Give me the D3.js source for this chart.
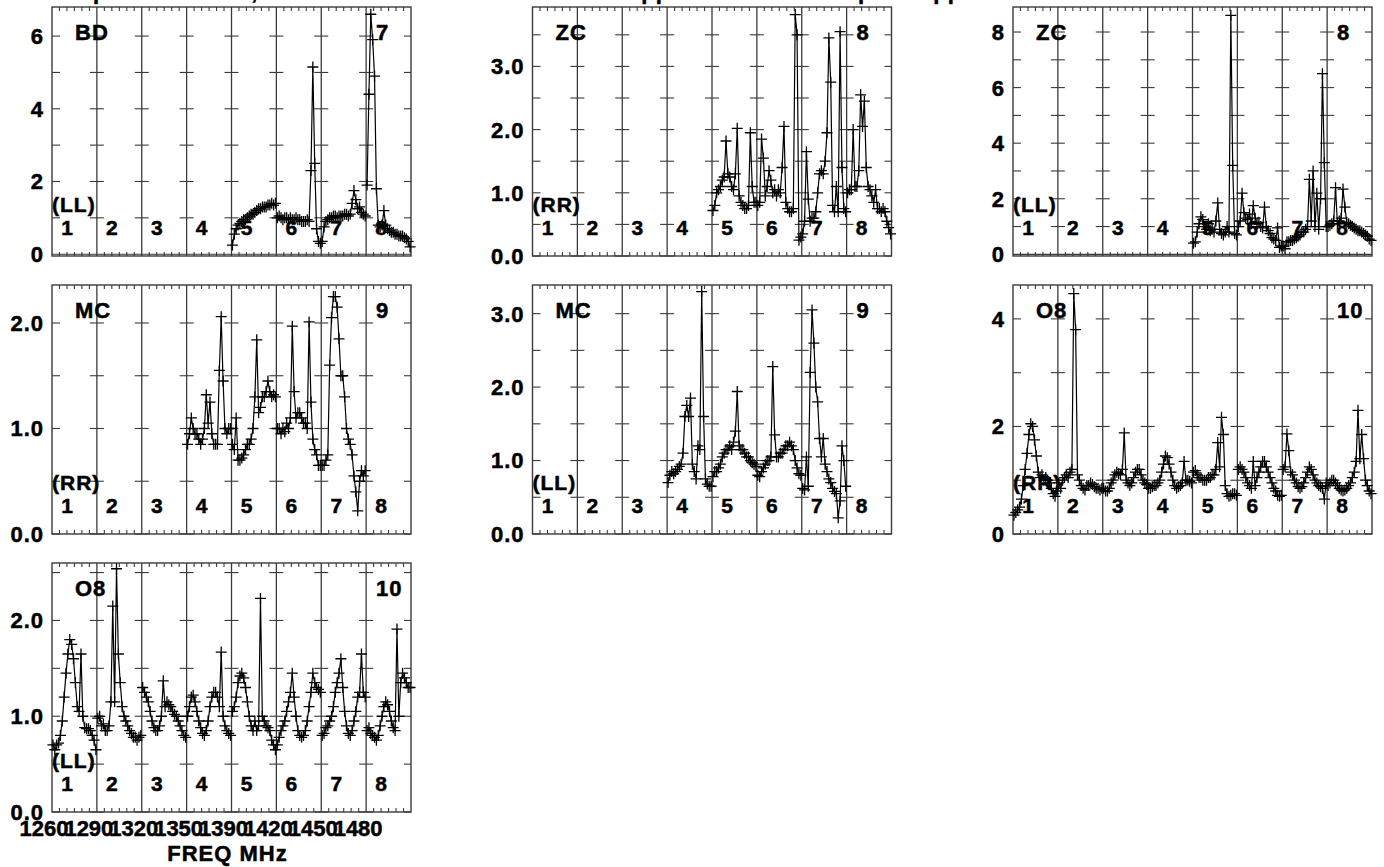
<!DOCTYPE html>
<html>
<head>
<meta charset="utf-8">
<script src="https://cdn.jsdelivr.net/npm/d3@7/dist/d3.min.js"></script>
<style>
  body { margin: 0; background: #fff; }
  text {
    font-family: "Liberation Sans", Arial, sans-serif;
    font-weight: bold;
    font-size: 22px;
    letter-spacing: 1px;
    fill: #000;
    stroke: #000;
    stroke-width: 0.5px;
  }
  text.small { font-size: 21px; }
</style>
</head>
<body>
<div id="chart"></div>
<script>
const svgWidth = 1384;
const svgHeight = 867;

// panel geometry
const panelW = 359;
const panelH = 249;
const colX = [52, 532.5, 1013];
const rowY = [7, 285, 563];

const nChan = 24;   // channels per IF

const ifLabels = ["1", "2", "3", "4", "5", "6", "7", "8"];
const freqLabels = ["1260", "1290", "1320", "1350", "1390", "1420", "1450", "1480"];

const sources = ["BD", "ZC", "ZC", "MC", "MC", "O8", "O8"];
const antennas = ["7", "8", "8", "9", "9", "10", "10"];
const pols = ["(LL)", "(RR)", "(LL)", "(RR)", "(LL)", "(RR)", "(LL)"];
const yMin = [-0.05, 0, -0.06, 0, 0, 0, 0];
const yMax = [6.8, 3.94, 8.9, 2.36, 3.39, 4.63, 2.6];
const yMinor = [1, 0.5, 1, 0.5, 0.5, 1, 0.5];
const yMajor = [2, 1, 2, 1, 1, 2, 1];
const yFormat = ["d", ".1f", "d", ".1f", ".1f", "d", ".1f"];

// title words, only their descenders reach into the page
const titleWords = ["Bandpass", "all IFs,", "applied", "pol", "applied"];
const titleX = [34, 182, 628, 858, 920];

// amplitude per IF (null = flagged IF)
const bdLL = [null, null, null, null,
  [0.25,0.55,0.7,0.8,0.85,0.9,0.95,0.95,1.0,1.05,1.1,1.1,1.15,1.2,1.25,1.25,1.3,1.3,1.3,1.35,1.35,1.4,1.35,1.4],
  [1.0,1.05,1.0,0.95,1.0,1.0,0.95,1.0,0.95,0.95,1.0,0.95,0.95,0.9,0.9,0.9,0.95,0.9,2.3,5.15,2.5,0.7,0.35,0.3],
  [0.35,0.75,0.9,0.95,1.0,1.0,1.05,1.05,1.0,1.05,1.05,1.05,1.1,1.1,1.05,1.1,1.4,1.75,1.5,1.25,1.3,1.15,1.1,1.05],
  [1.9,4.4,6.6,5.9,4.9,1.8,0.8,0.75,0.8,1.2,0.8,0.7,0.65,0.6,0.6,0.55,0.55,0.5,0.5,0.5,0.45,0.42,0.35,0.2]
];
const zcRR = [null, null, null, null,
  [0.72,0.8,1.0,1.05,1.1,1.2,1.25,1.82,1.3,1.25,1.1,1.05,1.3,2.02,0.95,0.85,0.8,0.75,0.75,0.8,1.95,1.1,0.85,0.85],
  [0.8,0.85,1.85,1.55,0.95,1.1,1.35,1.2,1.0,1.05,0.95,1.05,1.0,1.4,2.05,0.85,0.75,0.7,0.7,0.75,3.82,3.5,0.25,0.3],
  [0.35,0.55,1.65,0.9,0.55,0.6,0.6,0.7,1.0,1.3,1.35,1.3,1.5,1.95,3.45,2.75,0.8,0.7,1.1,0.7,3.55,1.4,0.75,0.7],
  [1.0,1.05,1.05,2.0,1.1,1.1,1.35,2.55,2.05,2.45,1.4,1.1,1.05,0.95,0.85,1.05,0.75,0.75,0.7,0.75,0.7,0.55,0.45,0.35]
];
const zcLL = [null, null, null, null,
  [0.4,0.45,0.8,1.1,1.35,1.25,1.0,0.9,1.1,0.85,0.9,0.8,1.2,1.85,0.9,0.75,0.7,0.8,1.0,0.8,8.6,3.2,0.75,0.7],
  [1.0,1.2,2.2,1.5,1.3,1.25,1.45,1.1,1.75,1.3,1.1,1.15,1.0,0.95,1.7,1.0,0.85,0.75,0.6,0.55,0.5,0.95,0.25,0.3],
  [0.3,0.2,0.45,0.45,0.5,0.5,0.55,0.6,0.65,0.7,0.8,0.8,0.9,1.0,2.7,1.2,3.0,1.0,2.2,0.9,2.0,6.5,3.3,1.0],
  [1.0,1.05,1.1,1.2,2.4,1.1,1.2,1.3,2.35,1.7,1.15,1.1,1.05,1.0,0.95,0.9,0.85,0.85,0.8,0.75,0.7,0.65,0.55,0.5]
];
const mcRR = [null, null, null,
  [0.85,0.95,1.1,1.0,0.95,0.95,0.9,0.85,0.9,1.0,1.32,1.05,1.25,0.95,0.85,0.85,0.85,1.55,2.06,1.45,1.0,0.95,1.0,1.0],
  [0.85,0.8,1.1,0.7,0.7,0.72,0.75,0.8,0.85,0.85,0.9,1.0,1.3,1.84,1.15,1.2,1.3,1.3,1.35,1.45,1.35,1.3,1.32,1.3],
  [1.0,1.0,0.95,1.0,0.97,1.05,1.0,1.1,1.97,1.35,1.1,1.15,1.15,1.1,1.05,1.05,1.0,2.01,1.25,0.9,0.8,0.75,0.65,0.65],
  [0.65,0.65,0.7,0.75,1.6,2.05,2.25,2.25,2.15,1.85,1.5,1.5,1.3,1.0,0.9,0.85,0.75,0.55,0.4,0.22,0.5,0.6,0.55,0.6],
  null
];
const mcLL = [null, null, null,
  [0.7,0.8,0.85,0.82,0.85,0.88,0.92,0.95,1.1,1.6,1.75,1.6,1.85,0.95,0.85,0.75,1.2,1.15,3.3,1.6,0.75,0.68,0.65,0.65],
  [0.78,0.85,0.85,0.9,0.95,1.05,1.1,1.15,1.15,1.2,1.15,1.25,1.4,1.94,1.2,1.15,1.15,1.1,1.05,1.05,1.0,0.97,0.95,0.92],
  [0.8,0.78,0.85,0.9,0.95,1.0,1.0,1.05,2.28,1.35,1.05,1.05,1.1,1.1,1.15,1.2,1.2,1.25,1.2,1.15,1.0,0.9,0.82,0.8],
  [0.62,0.6,1.05,0.65,2.2,3.05,2.6,2.0,1.8,1.3,1.05,1.3,0.95,0.85,0.75,0.7,0.62,0.58,0.55,0.22,0.45,1.2,1.0,0.65],
  null
];
const o8RR = [
  [0.35,0.4,0.45,0.5,0.65,0.9,1.2,1.5,1.85,2.05,2.0,1.75,1.45,1.15,1.05,1.1,1.0,1.05,1.0,0.95,0.85,0.75,0.7,0.8],
  [0.95,0.85,1.0,1.05,1.1,1.05,1.15,1.2,4.47,3.8,1.1,1.0,0.9,0.85,0.82,0.9,0.9,0.95,0.92,0.88,0.85,0.85,0.82,0.85],
  [0.85,0.8,0.8,0.85,0.95,1.0,1.1,1.15,1.12,1.1,1.2,1.88,1.0,0.95,0.9,0.95,1.05,1.15,1.2,1.2,1.1,1.0,0.95,0.92],
  [0.85,0.85,0.88,0.9,0.9,0.95,1.0,1.15,1.3,1.45,1.42,1.3,1.15,1.0,0.9,0.85,0.88,0.9,0.95,1.35,1.0,1.0,0.98,0.95],
  [1.15,1.18,1.1,1.05,1.05,1.0,1.0,1.0,1.05,1.05,1.1,1.1,1.2,1.7,1.25,2.17,1.85,0.9,0.75,0.7,0.72,0.75,0.75,0.72],
  [1.2,1.25,1.2,1.15,1.05,0.95,0.9,0.85,1.35,0.9,1.05,1.15,1.25,1.35,1.35,1.25,1.15,1.05,0.95,0.85,0.8,0.72,0.7,0.72],
  [1.2,1.25,1.86,1.55,1.15,1.1,1.0,0.95,0.88,0.85,0.88,0.95,1.05,1.15,1.25,1.2,1.1,1.0,0.95,0.9,0.88,0.85,0.65,0.95],
  [0.9,0.95,1.0,1.0,0.95,0.9,0.85,0.82,0.8,0.82,0.85,0.9,0.95,1.05,1.15,1.35,2.3,1.4,1.85,1.4,1.0,0.9,0.8,0.75]
];
const o8LL = [
  [0.7,0.65,0.7,0.72,0.8,0.95,1.2,1.45,1.65,1.8,1.75,1.6,1.35,1.1,1.05,1.65,1.0,0.88,0.87,0.87,0.85,0.8,0.75,0.65],
  [0.98,1.0,0.9,0.92,0.85,0.85,0.9,1.15,2.15,1.15,2.54,1.65,1.35,1.1,1.0,0.95,0.9,0.85,0.82,0.78,0.78,0.75,0.78,0.8],
  [1.3,1.25,1.2,1.15,1.05,0.95,0.88,0.85,0.85,0.9,1.0,1.37,1.1,1.15,1.12,1.1,1.05,1.02,1.0,0.95,0.9,0.85,0.8,0.78],
  [1.0,1.1,1.2,1.22,1.15,1.05,0.95,0.88,0.82,0.8,0.85,0.95,1.1,1.2,1.25,1.25,1.2,1.1,1.67,1.0,0.9,0.85,0.82,0.8],
  [1.05,1.1,1.2,1.35,1.42,1.45,1.4,1.3,1.15,1.0,0.9,0.85,0.95,0.85,0.9,2.23,1.0,0.95,0.9,0.88,0.85,0.75,0.7,0.65],
  [0.7,0.78,0.85,0.9,0.95,1.05,1.15,1.25,1.45,1.2,1.0,0.85,0.8,0.78,0.8,0.85,0.95,1.1,1.25,1.45,1.35,1.3,1.28,1.25],
  [0.8,0.82,0.88,0.9,0.95,1.0,1.1,1.25,1.35,1.45,1.6,1.3,1.05,0.9,0.82,0.8,0.85,0.95,1.05,1.2,1.25,1.65,1.25,1.2],
  [0.85,0.88,0.82,0.8,0.78,0.75,0.8,0.9,1.0,1.1,1.15,1.12,1.05,0.95,0.88,0.85,1.91,1.0,1.35,1.45,1.4,1.35,1.3,1.3]
];

const panelData = [bdLL, zcRR, zcLL, mcRR, mcLL, o8RR, o8LL];

const svg = d3.select("#chart")
  .append("svg")
  .attr("width", svgWidth)
  .attr("height", svgHeight);

// title line, cut off by the page top as in the original
titleWords.forEach(function(w, i) {
  svg.append("text")
    .attr("x", titleX[i])
    .attr("y", -1.5)
    .text(w);
});

const xScale = d3.scaleLinear()
  .domain([0, ifLabels.length * nChan])
  .range([0, panelW]);

const tickLen = 7;
const plus = "M-5.5,0H5.5M0,-5.5V5.5";
const frameColor = "#3a3a3a";

panelData.forEach(function(ifData, p) {
  const g = svg.append("g")
    .attr("transform", `translate(${colX[p % 3]}, ${rowY[Math.floor(p / 3)]})`);

  const yScale = d3.scaleLinear()
    .domain([yMin[p], yMax[p]])
    .range([panelH, 0]);

  const minorTicks = d3.range(0, yMax[p] + 1e-9, yMinor[p]);
  const majorTicks = d3.range(0, yMax[p] + 1e-9, yMajor[p]);

  // IF separators
  const bounds = d3.range(1, ifLabels.length).map(k => xScale(k * nChan));
  g.selectAll(".sep")
    .data(bounds)
    .enter()
    .append("line")
    .attr("x1", d => d).attr("x2", d => d)
    .attr("y1", 0).attr("y2", panelH)
    .attr("stroke", frameColor)
    .attr("stroke-width", 1.3);

  // cross ticks on separators and inside ticks on both edges
  minorTicks.forEach(function(v) {
    const y = yScale(v);
    if (yMin[p] < 0 && v === 0) {
      // zero line sits just above the frame
      g.append("line")
        .attr("x1", 0).attr("x2", panelW)
        .attr("y1", y).attr("y2", y)
        .attr("stroke", frameColor).attr("stroke-width", 1.1);
      return;
    }
    bounds.forEach(function(bx) {
      g.append("line")
        .attr("x1", bx - tickLen).attr("x2", bx + tickLen)
        .attr("y1", y).attr("y2", y)
        .attr("stroke", frameColor).attr("stroke-width", 1.1);
    });
    g.append("line")
      .attr("x1", 0).attr("x2", tickLen + 1)
      .attr("y1", y).attr("y2", y)
      .attr("stroke", frameColor).attr("stroke-width", 1.1);
    g.append("line")
      .attr("x1", panelW - tickLen).attr("x2", panelW)
      .attr("y1", y).attr("y2", y)
      .attr("stroke", frameColor).attr("stroke-width", 1.1);
  });

  // small ticks along top and bottom, 6 per IF
  const subTicks = d3.range(0, ifLabels.length * 6).filter(t => t % 6 !== 0)
    .map(t => xScale(t * nChan / 6));
  subTicks.forEach(function(tx) {
    g.append("line").attr("x1", tx).attr("x2", tx).attr("y1", 0).attr("y2", 4)
      .attr("stroke", frameColor).attr("stroke-width", 1.1);
    g.append("line").attr("x1", tx).attr("x2", tx).attr("y1", panelH - 4).attr("y2", panelH)
      .attr("stroke", frameColor).attr("stroke-width", 1.1);
  });

  // frame
  g.append("rect")
    .attr("x", 0).attr("y", 0)
    .attr("width", panelW).attr("height", panelH)
    .attr("fill", "none")
    .attr("stroke", frameColor)
    .attr("stroke-width", 1.4);

  // y labels
  g.selectAll(".ylab")
    .data(majorTicks)
    .enter()
    .append("text")
    .attr("x", -8)
    .attr("y", d => yScale(d))
    .attr("dy", "0.36em")
    .attr("text-anchor", "end")
    .text(d => d3.format(yFormat[p])(d));

  // data: one connected run of crosses per IF
  const line = d3.line()
    .x(d => xScale(d[0]))
    .y(d => yScale(d[1]));

  ifData.forEach(function(vals, k) {
    if (!vals) return;
    const pts = vals.map((v, j) => [k * nChan + j + 0.5, v]);
    g.append("path")
      .datum(pts)
      .attr("d", line)
      .attr("fill", "none")
      .attr("stroke", "#000")
      .attr("stroke-width", 1.2);
    g.selectAll(null)
      .data(pts)
      .enter()
      .append("path")
      .attr("d", plus)
      .attr("transform", d => `translate(${xScale(d[0])}, ${yScale(d[1])})`)
      .attr("stroke", "#000")
      .attr("stroke-width", 1.3)
      .attr("fill", "none");
  });

  // labels inside the panel
  g.append("text").attr("x", 23).attr("y", 33).text(sources[p]);
  g.append("text").attr("x", panelW - 35).attr("y", 33).text(antennas[p]);
  g.append("text").attr("class", "small").attr("x", 0).attr("y", 205).text(pols[p]);
  ifLabels.forEach(function(lab, k) {
    g.append("text")
      .attr("class", "small")
      .attr("x", xScale(k * nChan) + 15.5)
      .attr("y", 228)
      .attr("text-anchor", "middle")
      .text(lab);
  });

  // frequency axis only under the bottom-left panel
  if (p === panelData.length - 1) {
    freqLabels.forEach(function(lab, k) {
      g.append("text")
        .attr("x", xScale(k * nChan) - 8)
        .attr("y", panelH + 24)
        .attr("text-anchor", "middle")
        .style("letter-spacing", "0px")
        .text(lab);
    });
    g.append("text")
      .attr("x", panelW / 2 - 4)
      .attr("y", panelH + 49)
      .attr("text-anchor", "middle")
      .text("FREQ MHz");
  }
});
</script>
</body>
</html>
